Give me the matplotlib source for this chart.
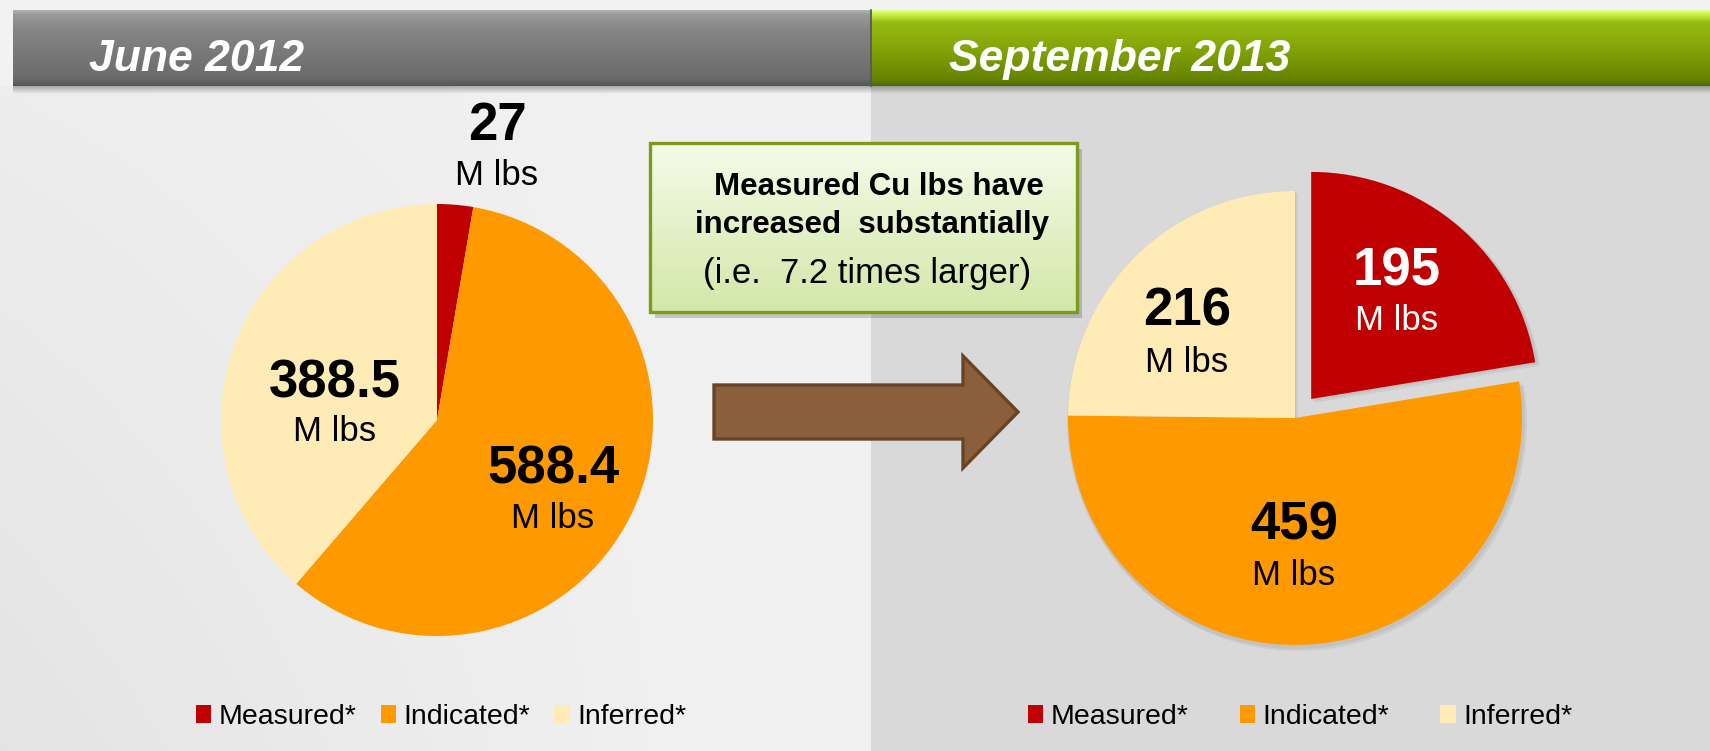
import matplotlib
matplotlib.use("Agg")
import matplotlib.pyplot as plt
import matplotlib.colors as mcolors
import numpy as np
from matplotlib.patches import Rectangle, Polygon

W, H = 1710, 751

# data
categories = ["Measured*", "Indicated*", "Inferred*"]
june_2012 = [27, 588.4, 388.5]
sept_2013 = [195, 459, 216]
panel_titles = ["June 2012", "September 2013"]
unit = "M lbs"
callout_lines = ["Measured Cu lbs have", "increased  substantially", "(i.e.  7.2 times larger)"]

colors = ["#c00000", "#ff9900", "#ffebb5"]
SANS = ["Liberation Sans", "DejaVu Sans"]


def Y(y):
    # image row -> data y
    return H - y


def vgrad(ax, x0, x1, y0, y1, stops, z, alpha=None):
    t = np.linspace(0, 1, 256)
    pos = [p for p, _ in stops]
    rgb = np.array([mcolors.to_rgb(c) for _, c in stops])
    img = np.stack([np.interp(t, pos, rgb[:, k]) for k in range(3)], axis=-1)
    if alpha is not None:
        a = np.interp(t, [p for p, _ in alpha], [v for _, v in alpha])
        img = np.concatenate([img, a[:, None]], axis=-1)
    ax.imshow(img[:, None, :], extent=(x0, x1, Y(y1), Y(y0)), origin="upper",
              aspect="auto", zorder=z, interpolation="bilinear")


fig = plt.figure(figsize=(W / 100, H / 100), dpi=100)
fig.patch.set_facecolor("#f2f2f2")
ax = fig.add_axes([0, 0, 1, 1])

# panels (left one darkens slightly toward the lower left)
xs = np.linspace(0, 1, 200)
ys = np.linspace(0, 1, 200)
gx, gy = np.meshgrid(xs, ys)
shade = 0.949 - 0.055 * np.clip(1 - gx * 1.15, 0, 1) * (0.35 + 0.65 * gy)
ax.imshow(np.dstack([shade] * 3), extent=(0, 871, 0, Y(86)), origin="upper",
          aspect="auto", zorder=0, interpolation="bilinear")
ax.add_patch(Rectangle((871, 0), W - 871, Y(86), color="#d9d9d9", lw=0, zorder=0))

# header bars
vgrad(ax, 13, 871, 10, 86, [(0, "#b4b4b4"), (0.06, "#9a9a9a"), (0.25, "#868686"),
                            (0.9, "#6b6b6b"), (1, "#555555")], 2)
vgrad(ax, 871, W, 10, 86, [(0, "#e4ff8a"), (0.07, "#c6ec3c"), (0.16, "#98bb12"),
                           (0.5, "#84a508"), (0.92, "#648200"), (1, "#4f6a00")], 2)
vgrad(ax, 13, W, 86, 94, [(0, "#000000"), (1, "#000000")], 1, alpha=[(0, 0.3), (1, 0.0)])
ax.plot([871, 871], [Y(10), Y(86)], color="#555555", lw=1.2, zorder=3)
ax.text(89, Y(71), panel_titles[0], family=SANS, fontsize=32, fontweight="bold",
        fontstyle="italic", color="white", va="baseline", ha="left", zorder=4)
ax.text(949, Y(71), panel_titles[1], family=SANS, fontsize=32, fontweight="bold",
        fontstyle="italic", color="white", va="baseline", ha="left", zorder=4)

# pies
wedges_l, _ = ax.pie(june_2012, colors=colors, startangle=90, counterclock=False,
                     center=(437, Y(420)), radius=216, frame=True,
                     wedgeprops=dict(linewidth=0, zorder=5))
# soft shadow under the right pie, following the wedge shapes
for dx, dy, a in [(3, -4, 0.05), (1, -2, 0.05)]:
    ax.pie(sept_2013, colors=["black"] * 3, startangle=90, counterclock=False,
           explode=[25, 0, 0], center=(1295 + dx, Y(418) + dy), radius=229, frame=True,
           wedgeprops=dict(linewidth=0, zorder=4, alpha=a))
wedges_r, _ = ax.pie(sept_2013, colors=colors, startangle=90, counterclock=False,
                     explode=[25, 0, 0], center=(1295, Y(418)), radius=227, frame=True,
                     wedgeprops=dict(linewidth=0, zorder=5))

# value labels
lab_l = [(497, 140, 185, "black"), (553, 484, 528, "black"), (335, 397, 441, "black")]
lab_r = [(1397, 285, 330, "white"), (1294, 540, 585, "black"), (1187, 326, 372, "black")]
for vals, labs in [(june_2012, lab_l), (sept_2013, lab_r)]:
    for v, (x, yb, yu, c) in zip(vals, labs):
        ax.text(x, Y(yb), f"{v:g}", family=SANS, fontsize=38, fontweight="bold",
                color=c, ha="center", va="baseline", zorder=6)
        ax.text(x, Y(yu), unit, family=SANS, fontsize=25, color=c,
                ha="center", va="baseline", zorder=6)

# callout box
ax.add_patch(Rectangle((655, Y(318)), 427, 169, color="#000000", alpha=0.18, lw=0, zorder=6))
vgrad(ax, 650, 1077, 143, 312, [(0, "#f5fbe8"), (1, "#d3e7a9")], 7)
ax.add_patch(Rectangle((650, Y(312)), 427, 169, fill=False, edgecolor="#7c9a1c",
                       lw=2.4, zorder=8))
for (txt, x, yb, wt, fs) in zip(callout_lines, [879, 872, 867], [195, 233, 283],
                                ["bold", "bold", "normal"], [22.5, 22.5, 25]):
    ax.text(x, Y(yb), txt, family=SANS, fontsize=fs, fontweight=wt, color="black",
            ha="center", va="baseline", zorder=9)

# arrow
arrow = [(714, 385), (963, 385), (963, 356), (1018, 412), (963, 468), (963, 439), (714, 439)]
ax.add_patch(Polygon([(x, Y(y)) for x, y in arrow], closed=True, facecolor="#8b5e3c",
                     edgecolor="#684427", lw=2.4, zorder=6))

# legends
for wedges, cx in [(wedges_l, 441), (wedges_r, 1300)]:
    spacing = 0.85 if cx < 800 else 1.8
    fig.legend(wedges, categories, loc="center", bbox_to_anchor=(cx / W, Y(717) / H),
               ncol=3, frameon=False, prop=dict(family=SANS, size=20.5),
               handlelength=0.55, handleheight=0.55, handletextpad=0.25,
               columnspacing=spacing, borderpad=0)

ax.set_xlim(0, W)
ax.set_ylim(0, H)
ax.set_aspect("equal")
ax.set_axis_off()

fig.savefig("out.png", dpi=100, facecolor=fig.get_facecolor())
